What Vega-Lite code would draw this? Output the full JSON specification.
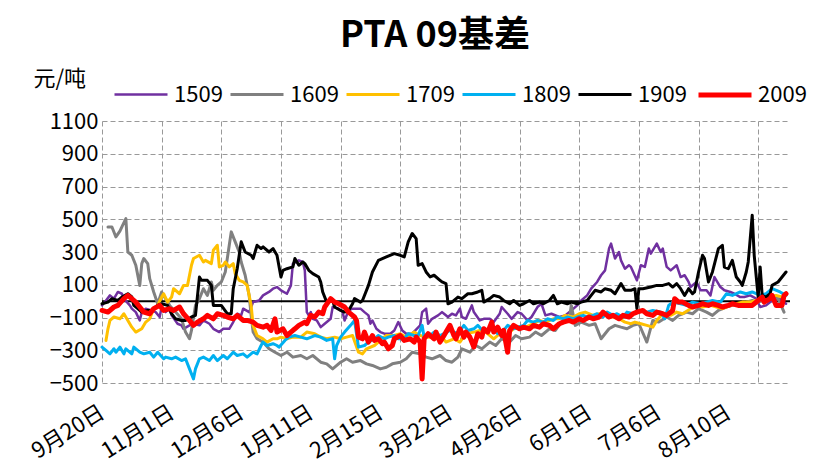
{
  "$schema": "https://vega.github.io/schema/vega-lite/v6.json",
  "width": 688,
  "height": 262,
  "autosize": {"type": "none"},
  "padding": {"left": 102, "top": 121, "right": 43, "bottom": 92},
  "background": "white",
  "config": {
    "view": {"stroke": null},
    "font": "Noto Sans CJK SC",
    "axis": {"labelOverlap": false, "labelFlush": false}
  },
  "title": {
    "text": "PTA 09基差",
    "fontSize": 36,
    "font": "Noto Sans CJK SC",
    "fontWeight": "bold",
    "anchor": "middle",
    "frame": "group",
    "dx": -11,
    "offset": 11,
    "color": "#000000"
  },
  "layer": [
    {
      "data": {"values": [{}]},
      "mark": {"type": "rule", "color": "#000000", "strokeWidth": 2},
      "encoding": {
        "y": {
          "datum": 0,
          "type": "quantitative",
          "axis": {
            "labelOverlap": false,
            "values": [-500, -300, -100, 100, 300, 500, 700, 900, 1100],
            "format": "d"
          }
        }
      }
    },
    {
      "data": {
        "values": [
{"s":"1509","i":0,"v":-26},{"s":"1509","i":2,"v":4},{"s":"1509","i":4,"v":35},{"s":"1509","i":6,"v":15},{"s":"1509","i":8,"v":56},{"s":"1509","i":10,"v":45},{"s":"1509","i":11,"v":15},{"s":"1509","i":14,"v":-26},{"s":"1509","i":15,"v":-46},{"s":"1509","i":17,"v":-67},{"s":"1509","i":19,"v":-118},{"s":"1509","i":20,"v":-67},{"s":"1509","i":22,"v":-46},{"s":"1509","i":25,"v":-57},{"s":"1509","i":27,"v":-67},{"s":"1509","i":29,"v":-97},{"s":"1509","i":30,"v":-36},{"s":"1509","i":32,"v":-67},{"s":"1509","i":34,"v":-46},{"s":"1509","i":35,"v":-87},{"s":"1509","i":38,"v":-138},{"s":"1509","i":40,"v":-148},{"s":"1509","i":41,"v":-169},{"s":"1509","i":44,"v":-148},{"s":"1509","i":46,"v":-138},{"s":"1509","i":49,"v":-148},{"s":"1509","i":51,"v":-118},{"s":"1509","i":54,"v":-138},{"s":"1509","i":56,"v":-169},{"s":"1509","i":59,"v":-189},{"s":"1509","i":61,"v":-169},{"s":"1509","i":64,"v":-169},{"s":"1509","i":66,"v":-128},{"s":"1509","i":68,"v":-77},{"s":"1509","i":70,"v":-87},{"s":"1509","i":71,"v":-46},{"s":"1509","i":74,"v":-67},{"s":"1509","i":76,"v":-6},{"s":"1509","i":79,"v":4},{"s":"1509","i":81,"v":35},{"s":"1509","i":84,"v":56},{"s":"1509","i":86,"v":76},{"s":"1509","i":88,"v":86},{"s":"1509","i":90,"v":66},{"s":"1509","i":93,"v":45},{"s":"1509","i":95,"v":96},{"s":"1509","i":96,"v":229},{"s":"1509","i":99,"v":249},{"s":"1509","i":101,"v":239},{"s":"1509","i":102,"v":188},{"s":"1509","i":103,"v":-67},{"s":"1509","i":104,"v":-87},{"s":"1509","i":105,"v":-67},{"s":"1509","i":106,"v":-108},{"s":"1509","i":108,"v":-118},{"s":"1509","i":110,"v":-159},{"s":"1509","i":112,"v":-138},{"s":"1509","i":115,"v":-108},{"s":"1509","i":116,"v":-36},{"s":"1509","i":119,"v":-46},{"s":"1509","i":121,"v":-67},{"s":"1509","i":122,"v":-118},{"s":"1509","i":124,"v":-57},{"s":"1509","i":126,"v":-46},{"s":"1509","i":130,"v":-46},{"s":"1509","i":132,"v":-67},{"s":"1509","i":134,"v":-87},{"s":"1509","i":135,"v":-138},{"s":"1509","i":136,"v":-118},{"s":"1509","i":138,"v":-169},{"s":"1509","i":140,"v":-189},{"s":"1509","i":142,"v":-199},{"s":"1509","i":145,"v":-199},{"s":"1509","i":147,"v":-179},{"s":"1509","i":149,"v":-128},{"s":"1509","i":151,"v":-179},{"s":"1509","i":153,"v":-199},{"s":"1509","i":156,"v":-199},{"s":"1509","i":160,"v":-148},{"s":"1509","i":161,"v":-67},{"s":"1509","i":163,"v":-46},{"s":"1509","i":164,"v":-138},{"s":"1509","i":166,"v":-108},{"s":"1509","i":169,"v":-87},{"s":"1509","i":171,"v":-67},{"s":"1509","i":172,"v":-77},{"s":"1509","i":174,"v":-97},{"s":"1509","i":176,"v":-77},{"s":"1509","i":178,"v":-87},{"s":"1509","i":180,"v":-46},{"s":"1509","i":181,"v":-97},{"s":"1509","i":183,"v":-108},{"s":"1509","i":186,"v":-26},{"s":"1509","i":187,"v":-67},{"s":"1509","i":190,"v":-118},{"s":"1509","i":192,"v":-108},{"s":"1509","i":195,"v":-108},{"s":"1509","i":197,"v":-128},{"s":"1509","i":200,"v":-77},{"s":"1509","i":201,"v":-36},{"s":"1509","i":204,"v":-77},{"s":"1509","i":206,"v":-108},{"s":"1509","i":209,"v":-67},{"s":"1509","i":211,"v":-77},{"s":"1509","i":214,"v":-118},{"s":"1509","i":216,"v":-97},{"s":"1509","i":219,"v":-36},{"s":"1509","i":221,"v":-16},{"s":"1509","i":223,"v":-87},{"s":"1509","i":226,"v":-77},{"s":"1509","i":230,"v":-97},{"s":"1509","i":233,"v":-87},{"s":"1509","i":236,"v":-57},{"s":"1509","i":239,"v":-26},{"s":"1509","i":241,"v":4},{"s":"1509","i":244,"v":35},{"s":"1509","i":246,"v":76},{"s":"1509","i":249,"v":117},{"s":"1509","i":251,"v":158},{"s":"1509","i":253,"v":188},{"s":"1509","i":255,"v":321},{"s":"1509","i":256,"v":351},{"s":"1509","i":258,"v":260},{"s":"1509","i":260,"v":300},{"s":"1509","i":261,"v":249},{"s":"1509","i":263,"v":198},{"s":"1509","i":265,"v":219},{"s":"1509","i":266,"v":209},{"s":"1509","i":269,"v":127},{"s":"1509","i":271,"v":219},{"s":"1509","i":273,"v":209},{"s":"1509","i":275,"v":321},{"s":"1509","i":276,"v":290},{"s":"1509","i":279,"v":351},{"s":"1509","i":281,"v":300},{"s":"1509","i":282,"v":321},{"s":"1509","i":284,"v":209},{"s":"1509","i":286,"v":188},{"s":"1509","i":289,"v":219},{"s":"1509","i":291,"v":147},{"s":"1509","i":293,"v":158},{"s":"1509","i":295,"v":117},{"s":"1509","i":296,"v":86},{"s":"1509","i":299,"v":117},{"s":"1509","i":301,"v":66},{"s":"1509","i":304,"v":66},{"s":"1509","i":306,"v":35},{"s":"1509","i":308,"v":147},{"s":"1509","i":311,"v":86},{"s":"1509","i":313,"v":66},{"s":"1509","i":316,"v":56},{"s":"1509","i":318,"v":45},{"s":"1509","i":321,"v":25},{"s":"1509","i":323,"v":25},{"s":"1509","i":326,"v":35},{"s":"1509","i":329,"v":15},{"s":"1509","i":331,"v":-36},{"s":"1509","i":334,"v":-26},{"s":"1509","i":337,"v":4},{"s":"1509","i":341,"v":15},{"s":"1509","i":344,"v":-16},
{"s":"1609","i":3,"v":453},{"s":"1609","i":5,"v":453},{"s":"1609","i":7,"v":392},{"s":"1609","i":9,"v":427},{"s":"1609","i":10,"v":453},{"s":"1609","i":12,"v":504},{"s":"1609","i":13,"v":300},{"s":"1609","i":15,"v":280},{"s":"1609","i":17,"v":219},{"s":"1609","i":19,"v":96},{"s":"1609","i":20,"v":229},{"s":"1609","i":21,"v":260},{"s":"1609","i":23,"v":229},{"s":"1609","i":24,"v":137},{"s":"1609","i":26,"v":56},{"s":"1609","i":28,"v":-16},{"s":"1609","i":30,"v":56},{"s":"1609","i":31,"v":35},{"s":"1609","i":34,"v":-26},{"s":"1609","i":37,"v":-67},{"s":"1609","i":40,"v":-108},{"s":"1609","i":42,"v":-189},{"s":"1609","i":44,"v":-230},{"s":"1609","i":45,"v":-179},{"s":"1609","i":47,"v":-26},{"s":"1609","i":49,"v":15},{"s":"1609","i":51,"v":76},{"s":"1609","i":53,"v":35},{"s":"1609","i":55,"v":117},{"s":"1609","i":56,"v":66},{"s":"1609","i":58,"v":96},{"s":"1609","i":60,"v":117},{"s":"1609","i":62,"v":178},{"s":"1609","i":64,"v":341},{"s":"1609","i":65,"v":423},{"s":"1609","i":67,"v":362},{"s":"1609","i":69,"v":300},{"s":"1609","i":70,"v":239},{"s":"1609","i":72,"v":158},{"s":"1609","i":74,"v":35},{"s":"1609","i":75,"v":-87},{"s":"1609","i":76,"v":-189},{"s":"1609","i":78,"v":-230},{"s":"1609","i":81,"v":-250},{"s":"1609","i":84,"v":-291},{"s":"1609","i":87,"v":-312},{"s":"1609","i":90,"v":-332},{"s":"1609","i":93,"v":-312},{"s":"1609","i":96,"v":-342},{"s":"1609","i":100,"v":-332},{"s":"1609","i":103,"v":-352},{"s":"1609","i":106,"v":-332},{"s":"1609","i":110,"v":-373},{"s":"1609","i":113,"v":-383},{"s":"1609","i":116,"v":-414},{"s":"1609","i":120,"v":-373},{"s":"1609","i":123,"v":-352},{"s":"1609","i":126,"v":-373},{"s":"1609","i":130,"v":-363},{"s":"1609","i":133,"v":-383},{"s":"1609","i":136,"v":-393},{"s":"1609","i":140,"v":-414},{"s":"1609","i":143,"v":-404},{"s":"1609","i":146,"v":-383},{"s":"1609","i":150,"v":-373},{"s":"1609","i":153,"v":-352},{"s":"1609","i":156,"v":-312},{"s":"1609","i":160,"v":-322},{"s":"1609","i":163,"v":-342},{"s":"1609","i":166,"v":-352},{"s":"1609","i":170,"v":-332},{"s":"1609","i":173,"v":-363},{"s":"1609","i":176,"v":-373},{"s":"1609","i":179,"v":-342},{"s":"1609","i":181,"v":-291},{"s":"1609","i":185,"v":-312},{"s":"1609","i":188,"v":-271},{"s":"1609","i":191,"v":-291},{"s":"1609","i":195,"v":-250},{"s":"1609","i":198,"v":-271},{"s":"1609","i":201,"v":-230},{"s":"1609","i":205,"v":-250},{"s":"1609","i":208,"v":-210},{"s":"1609","i":211,"v":-230},{"s":"1609","i":215,"v":-220},{"s":"1609","i":218,"v":-189},{"s":"1609","i":221,"v":-210},{"s":"1609","i":225,"v":-169},{"s":"1609","i":228,"v":-179},{"s":"1609","i":231,"v":-128},{"s":"1609","i":235,"v":-118},{"s":"1609","i":236,"v":-26},{"s":"1609","i":238,"v":-148},{"s":"1609","i":241,"v":-128},{"s":"1609","i":245,"v":-148},{"s":"1609","i":248,"v":-138},{"s":"1609","i":251,"v":-230},{"s":"1609","i":255,"v":-169},{"s":"1609","i":258,"v":-148},{"s":"1609","i":261,"v":-159},{"s":"1609","i":264,"v":-169},{"s":"1609","i":267,"v":-148},{"s":"1609","i":270,"v":-138},{"s":"1609","i":274,"v":-250},{"s":"1609","i":277,"v":-118},{"s":"1609","i":280,"v":-128},{"s":"1609","i":284,"v":-97},{"s":"1609","i":287,"v":-118},{"s":"1609","i":290,"v":-87},{"s":"1609","i":294,"v":-67},{"s":"1609","i":297,"v":-77},{"s":"1609","i":300,"v":-46},{"s":"1609","i":304,"v":-67},{"s":"1609","i":307,"v":-87},{"s":"1609","i":310,"v":-56},{"s":"1609","i":314,"v":-36},{"s":"1609","i":317,"v":-26},{"s":"1609","i":320,"v":-16},{"s":"1609","i":324,"v":-6},{"s":"1609","i":327,"v":4},{"s":"1609","i":330,"v":-6},{"s":"1609","i":334,"v":15},{"s":"1609","i":337,"v":35},{"s":"1609","i":340,"v":15},{"s":"1609","i":343,"v":-67},
{"s":"1709","i":2,"v":-240},{"s":"1709","i":3,"v":-169},{"s":"1709","i":4,"v":-118},{"s":"1709","i":6,"v":-97},{"s":"1709","i":9,"v":-108},{"s":"1709","i":11,"v":-77},{"s":"1709","i":13,"v":-118},{"s":"1709","i":15,"v":-159},{"s":"1709","i":17,"v":-189},{"s":"1709","i":20,"v":-169},{"s":"1709","i":22,"v":-128},{"s":"1709","i":24,"v":-108},{"s":"1709","i":26,"v":-46},{"s":"1709","i":28,"v":-26},{"s":"1709","i":30,"v":25},{"s":"1709","i":31,"v":45},{"s":"1709","i":33,"v":-6},{"s":"1709","i":35,"v":25},{"s":"1709","i":36,"v":76},{"s":"1709","i":39,"v":45},{"s":"1709","i":41,"v":96},{"s":"1709","i":43,"v":96},{"s":"1709","i":45,"v":219},{"s":"1709","i":46,"v":260},{"s":"1709","i":49,"v":280},{"s":"1709","i":51,"v":239},{"s":"1709","i":52,"v":249},{"s":"1709","i":55,"v":229},{"s":"1709","i":56,"v":311},{"s":"1709","i":58,"v":341},{"s":"1709","i":59,"v":209},{"s":"1709","i":61,"v":219},{"s":"1709","i":62,"v":239},{"s":"1709","i":64,"v":209},{"s":"1709","i":66,"v":229},{"s":"1709","i":67,"v":168},{"s":"1709","i":69,"v":127},{"s":"1709","i":71,"v":117},{"s":"1709","i":73,"v":96},{"s":"1709","i":75,"v":-26},{"s":"1709","i":76,"v":-148},{"s":"1709","i":78,"v":-210},{"s":"1709","i":81,"v":-230},{"s":"1709","i":83,"v":-250},{"s":"1709","i":86,"v":-230},{"s":"1709","i":88,"v":-230},{"s":"1709","i":90,"v":-220},{"s":"1709","i":93,"v":-230},{"s":"1709","i":96,"v":-220},{"s":"1709","i":100,"v":-220},{"s":"1709","i":103,"v":-189},{"s":"1709","i":107,"v":-199},{"s":"1709","i":110,"v":-220},{"s":"1709","i":113,"v":-230},{"s":"1709","i":117,"v":-220},{"s":"1709","i":120,"v":-230},{"s":"1709","i":123,"v":-220},{"s":"1709","i":126,"v":-210},{"s":"1709","i":129,"v":-312},{"s":"1709","i":131,"v":-322},{"s":"1709","i":133,"v":-291},{"s":"1709","i":137,"v":-271},{"s":"1709","i":140,"v":-240},{"s":"1709","i":143,"v":-210},{"s":"1709","i":147,"v":-210},{"s":"1709","i":150,"v":-199},{"s":"1709","i":153,"v":-220},{"s":"1709","i":157,"v":-189},{"s":"1709","i":160,"v":-210},{"s":"1709","i":163,"v":-220},{"s":"1709","i":167,"v":-220},{"s":"1709","i":170,"v":-210},{"s":"1709","i":173,"v":-250},{"s":"1709","i":177,"v":-230},{"s":"1709","i":180,"v":-250},{"s":"1709","i":183,"v":-199},{"s":"1709","i":187,"v":-189},{"s":"1709","i":190,"v":-179},{"s":"1709","i":193,"v":-189},{"s":"1709","i":197,"v":-230},{"s":"1709","i":200,"v":-199},{"s":"1709","i":203,"v":-210},{"s":"1709","i":207,"v":-169},{"s":"1709","i":210,"v":-159},{"s":"1709","i":213,"v":-159},{"s":"1709","i":217,"v":-138},{"s":"1709","i":220,"v":-118},{"s":"1709","i":223,"v":-128},{"s":"1709","i":227,"v":-108},{"s":"1709","i":230,"v":-108},{"s":"1709","i":233,"v":-87},{"s":"1709","i":237,"v":-97},{"s":"1709","i":240,"v":-77},{"s":"1709","i":243,"v":-67},{"s":"1709","i":247,"v":-87},{"s":"1709","i":250,"v":-77},{"s":"1709","i":253,"v":-87},{"s":"1709","i":257,"v":-97},{"s":"1709","i":260,"v":-108},{"s":"1709","i":263,"v":-128},{"s":"1709","i":266,"v":-138},{"s":"1709","i":268,"v":-128},{"s":"1709","i":271,"v":-138},{"s":"1709","i":274,"v":-148},{"s":"1709","i":277,"v":-159},{"s":"1709","i":279,"v":-118},{"s":"1709","i":282,"v":-77},{"s":"1709","i":286,"v":-87},{"s":"1709","i":289,"v":-67},{"s":"1709","i":292,"v":-77},{"s":"1709","i":296,"v":-46},{"s":"1709","i":299,"v":-26},{"s":"1709","i":302,"v":-36},{"s":"1709","i":306,"v":-26},{"s":"1709","i":309,"v":-36},{"s":"1709","i":312,"v":-46},{"s":"1709","i":316,"v":-26},{"s":"1709","i":319,"v":-16},{"s":"1709","i":322,"v":-6},{"s":"1709","i":326,"v":-6},{"s":"1709","i":329,"v":4},{"s":"1709","i":332,"v":15},{"s":"1709","i":336,"v":25},{"s":"1709","i":339,"v":35},{"s":"1709","i":342,"v":25},
{"s":"1809","i":0,"v":-281},{"s":"1809","i":2,"v":-301},{"s":"1809","i":4,"v":-322},{"s":"1809","i":6,"v":-291},{"s":"1809","i":7,"v":-312},{"s":"1809","i":9,"v":-281},{"s":"1809","i":11,"v":-322},{"s":"1809","i":12,"v":-291},{"s":"1809","i":15,"v":-322},{"s":"1809","i":16,"v":-281},{"s":"1809","i":19,"v":-312},{"s":"1809","i":21,"v":-322},{"s":"1809","i":24,"v":-312},{"s":"1809","i":26,"v":-342},{"s":"1809","i":28,"v":-312},{"s":"1809","i":31,"v":-352},{"s":"1809","i":32,"v":-342},{"s":"1809","i":35,"v":-352},{"s":"1809","i":37,"v":-342},{"s":"1809","i":40,"v":-363},{"s":"1809","i":42,"v":-352},{"s":"1809","i":44,"v":-414},{"s":"1809","i":46,"v":-475},{"s":"1809","i":47,"v":-414},{"s":"1809","i":49,"v":-352},{"s":"1809","i":51,"v":-342},{"s":"1809","i":54,"v":-363},{"s":"1809","i":56,"v":-332},{"s":"1809","i":58,"v":-363},{"s":"1809","i":61,"v":-332},{"s":"1809","i":63,"v":-352},{"s":"1809","i":66,"v":-312},{"s":"1809","i":68,"v":-332},{"s":"1809","i":71,"v":-322},{"s":"1809","i":73,"v":-342},{"s":"1809","i":76,"v":-312},{"s":"1809","i":78,"v":-322},{"s":"1809","i":80,"v":-271},{"s":"1809","i":81,"v":-250},{"s":"1809","i":83,"v":-271},{"s":"1809","i":86,"v":-260},{"s":"1809","i":88,"v":-271},{"s":"1809","i":89,"v":-281},{"s":"1809","i":92,"v":-240},{"s":"1809","i":94,"v":-220},{"s":"1809","i":97,"v":-210},{"s":"1809","i":100,"v":-220},{"s":"1809","i":103,"v":-230},{"s":"1809","i":107,"v":-210},{"s":"1809","i":110,"v":-220},{"s":"1809","i":113,"v":-240},{"s":"1809","i":116,"v":-230},{"s":"1809","i":117,"v":-352},{"s":"1809","i":118,"v":-271},{"s":"1809","i":120,"v":-220},{"s":"1809","i":122,"v":-189},{"s":"1809","i":125,"v":-148},{"s":"1809","i":127,"v":-118},{"s":"1809","i":129,"v":-281},{"s":"1809","i":132,"v":-271},{"s":"1809","i":134,"v":-250},{"s":"1809","i":137,"v":-230},{"s":"1809","i":139,"v":-210},{"s":"1809","i":142,"v":-230},{"s":"1809","i":144,"v":-220},{"s":"1809","i":147,"v":-210},{"s":"1809","i":149,"v":-230},{"s":"1809","i":152,"v":-230},{"s":"1809","i":154,"v":-199},{"s":"1809","i":157,"v":-210},{"s":"1809","i":159,"v":-210},{"s":"1809","i":161,"v":-148},{"s":"1809","i":162,"v":-220},{"s":"1809","i":165,"v":-210},{"s":"1809","i":167,"v":-189},{"s":"1809","i":170,"v":-210},{"s":"1809","i":172,"v":-199},{"s":"1809","i":175,"v":-179},{"s":"1809","i":177,"v":-189},{"s":"1809","i":179,"v":-199},{"s":"1809","i":182,"v":-148},{"s":"1809","i":184,"v":-179},{"s":"1809","i":187,"v":-169},{"s":"1809","i":189,"v":-148},{"s":"1809","i":192,"v":-189},{"s":"1809","i":194,"v":-179},{"s":"1809","i":197,"v":-169},{"s":"1809","i":199,"v":-199},{"s":"1809","i":202,"v":-179},{"s":"1809","i":204,"v":-148},{"s":"1809","i":207,"v":-169},{"s":"1809","i":209,"v":-159},{"s":"1809","i":212,"v":-148},{"s":"1809","i":214,"v":-118},{"s":"1809","i":217,"v":-128},{"s":"1809","i":219,"v":-118},{"s":"1809","i":222,"v":-128},{"s":"1809","i":224,"v":-108},{"s":"1809","i":227,"v":-118},{"s":"1809","i":229,"v":-97},{"s":"1809","i":232,"v":-108},{"s":"1809","i":234,"v":-97},{"s":"1809","i":237,"v":-108},{"s":"1809","i":239,"v":-97},{"s":"1809","i":242,"v":-87},{"s":"1809","i":244,"v":-97},{"s":"1809","i":247,"v":-87},{"s":"1809","i":249,"v":-77},{"s":"1809","i":252,"v":-97},{"s":"1809","i":254,"v":-67},{"s":"1809","i":257,"v":-87},{"s":"1809","i":259,"v":-77},{"s":"1809","i":262,"v":-97},{"s":"1809","i":264,"v":-67},{"s":"1809","i":267,"v":-77},{"s":"1809","i":271,"v":-57},{"s":"1809","i":274,"v":-67},{"s":"1809","i":277,"v":-57},{"s":"1809","i":281,"v":-67},{"s":"1809","i":283,"v":-108},{"s":"1809","i":285,"v":-26},{"s":"1809","i":287,"v":-6},{"s":"1809","i":291,"v":-16},{"s":"1809","i":294,"v":-26},{"s":"1809","i":297,"v":-6},{"s":"1809","i":301,"v":-16},{"s":"1809","i":304,"v":-6},{"s":"1809","i":307,"v":4},{"s":"1809","i":311,"v":-6},{"s":"1809","i":314,"v":45},{"s":"1809","i":317,"v":35},{"s":"1809","i":321,"v":56},{"s":"1809","i":324,"v":45},{"s":"1809","i":327,"v":56},{"s":"1809","i":331,"v":35},{"s":"1809","i":334,"v":45},{"s":"1809","i":337,"v":76},{"s":"1809","i":341,"v":56},{"s":"1809","i":344,"v":35},
{"s":"1909","i":0,"v":-16},{"s":"1909","i":3,"v":-6},{"s":"1909","i":5,"v":15},{"s":"1909","i":8,"v":4},{"s":"1909","i":10,"v":25},{"s":"1909","i":13,"v":45},{"s":"1909","i":15,"v":25},{"s":"1909","i":16,"v":-26},{"s":"1909","i":18,"v":-46},{"s":"1909","i":20,"v":-67},{"s":"1909","i":23,"v":-57},{"s":"1909","i":25,"v":-57},{"s":"1909","i":28,"v":-26},{"s":"1909","i":30,"v":-16},{"s":"1909","i":33,"v":-26},{"s":"1909","i":35,"v":-77},{"s":"1909","i":37,"v":-108},{"s":"1909","i":40,"v":-118},{"s":"1909","i":42,"v":-118},{"s":"1909","i":45,"v":-97},{"s":"1909","i":47,"v":-87},{"s":"1909","i":49,"v":147},{"s":"1909","i":50,"v":127},{"s":"1909","i":53,"v":127},{"s":"1909","i":55,"v":96},{"s":"1909","i":56,"v":-26},{"s":"1909","i":58,"v":-26},{"s":"1909","i":60,"v":-26},{"s":"1909","i":63,"v":-77},{"s":"1909","i":65,"v":-77},{"s":"1909","i":66,"v":76},{"s":"1909","i":68,"v":198},{"s":"1909","i":70,"v":362},{"s":"1909","i":72,"v":300},{"s":"1909","i":75,"v":280},{"s":"1909","i":76,"v":260},{"s":"1909","i":78,"v":341},{"s":"1909","i":80,"v":321},{"s":"1909","i":81,"v":331},{"s":"1909","i":84,"v":300},{"s":"1909","i":86,"v":321},{"s":"1909","i":88,"v":280},{"s":"1909","i":90,"v":147},{"s":"1909","i":91,"v":188},{"s":"1909","i":93,"v":198},{"s":"1909","i":96,"v":209},{"s":"1909","i":97,"v":260},{"s":"1909","i":99,"v":219},{"s":"1909","i":101,"v":239},{"s":"1909","i":102,"v":229},{"s":"1909","i":104,"v":188},{"s":"1909","i":106,"v":168},{"s":"1909","i":109,"v":147},{"s":"1909","i":110,"v":117},{"s":"1909","i":111,"v":56},{"s":"1909","i":113,"v":-6},{"s":"1909","i":116,"v":4},{"s":"1909","i":117,"v":-36},{"s":"1909","i":120,"v":-57},{"s":"1909","i":122,"v":-67},{"s":"1909","i":124,"v":-57},{"s":"1909","i":126,"v":-16},{"s":"1909","i":127,"v":15},{"s":"1909","i":130,"v":-6},{"s":"1909","i":131,"v":4},{"s":"1909","i":134,"v":96},{"s":"1909","i":136,"v":178},{"s":"1909","i":139,"v":249},{"s":"1909","i":143,"v":270},{"s":"1909","i":147,"v":290},{"s":"1909","i":150,"v":280},{"s":"1909","i":152,"v":270},{"s":"1909","i":154,"v":362},{"s":"1909","i":156,"v":413},{"s":"1909","i":158,"v":382},{"s":"1909","i":159,"v":219},{"s":"1909","i":161,"v":229},{"s":"1909","i":163,"v":178},{"s":"1909","i":165,"v":148},{"s":"1909","i":167,"v":158},{"s":"1909","i":170,"v":127},{"s":"1909","i":171,"v":117},{"s":"1909","i":173,"v":107},{"s":"1909","i":174,"v":-16},{"s":"1909","i":176,"v":-6},{"s":"1909","i":179,"v":25},{"s":"1909","i":181,"v":15},{"s":"1909","i":184,"v":45},{"s":"1909","i":186,"v":45},{"s":"1909","i":189,"v":56},{"s":"1909","i":191,"v":66},{"s":"1909","i":192,"v":-6},{"s":"1909","i":195,"v":15},{"s":"1909","i":197,"v":35},{"s":"1909","i":200,"v":25},{"s":"1909","i":202,"v":4},{"s":"1909","i":205,"v":-16},{"s":"1909","i":207,"v":4},{"s":"1909","i":210,"v":-26},{"s":"1909","i":212,"v":-16},{"s":"1909","i":215,"v":4},{"s":"1909","i":217,"v":-16},{"s":"1909","i":220,"v":-6},{"s":"1909","i":222,"v":-16},{"s":"1909","i":225,"v":4},{"s":"1909","i":227,"v":35},{"s":"1909","i":229,"v":-16},{"s":"1909","i":231,"v":-6},{"s":"1909","i":234,"v":-16},{"s":"1909","i":236,"v":-6},{"s":"1909","i":239,"v":-16},{"s":"1909","i":241,"v":-6},{"s":"1909","i":244,"v":4},{"s":"1909","i":246,"v":35},{"s":"1909","i":248,"v":66},{"s":"1909","i":251,"v":56},{"s":"1909","i":253,"v":76},{"s":"1909","i":256,"v":66},{"s":"1909","i":258,"v":45},{"s":"1909","i":261,"v":107},{"s":"1909","i":263,"v":66},{"s":"1909","i":266,"v":66},{"s":"1909","i":268,"v":76},{"s":"1909","i":269,"v":-46},{"s":"1909","i":270,"v":76},{"s":"1909","i":272,"v":76},{"s":"1909","i":276,"v":86},{"s":"1909","i":279,"v":96},{"s":"1909","i":282,"v":96},{"s":"1909","i":285,"v":107},{"s":"1909","i":287,"v":86},{"s":"1909","i":289,"v":107},{"s":"1909","i":291,"v":76},{"s":"1909","i":293,"v":35},{"s":"1909","i":295,"v":76},{"s":"1909","i":297,"v":45},{"s":"1909","i":298,"v":56},{"s":"1909","i":300,"v":178},{"s":"1909","i":302,"v":280},{"s":"1909","i":303,"v":260},{"s":"1909","i":305,"v":117},{"s":"1909","i":307,"v":178},{"s":"1909","i":310,"v":321},{"s":"1909","i":312,"v":341},{"s":"1909","i":313,"v":208},{"s":"1909","i":315,"v":198},{"s":"1909","i":317,"v":249},{"s":"1909","i":319,"v":147},{"s":"1909","i":321,"v":117},{"s":"1909","i":322,"v":96},{"s":"1909","i":324,"v":178},{"s":"1909","i":325,"v":239},{"s":"1909","i":327,"v":525},{"s":"1909","i":328,"v":280},{"s":"1909","i":330,"v":25},{"s":"1909","i":331,"v":208},{"s":"1909","i":332,"v":35},{"s":"1909","i":334,"v":25},{"s":"1909","i":336,"v":45},{"s":"1909","i":337,"v":96},{"s":"1909","i":340,"v":117},{"s":"1909","i":342,"v":147},{"s":"1909","i":344,"v":178},
{"s":"2009","i":0,"v":-57},{"s":"2009","i":3,"v":-67},{"s":"2009","i":6,"v":-36},{"s":"2009","i":8,"v":-26},{"s":"2009","i":11,"v":15},{"s":"2009","i":13,"v":35},{"s":"2009","i":16,"v":4},{"s":"2009","i":17,"v":-6},{"s":"2009","i":19,"v":-36},{"s":"2009","i":21,"v":-67},{"s":"2009","i":24,"v":-77},{"s":"2009","i":26,"v":-46},{"s":"2009","i":29,"v":-26},{"s":"2009","i":31,"v":-57},{"s":"2009","i":34,"v":-46},{"s":"2009","i":36,"v":-57},{"s":"2009","i":39,"v":-36},{"s":"2009","i":41,"v":-77},{"s":"2009","i":44,"v":-118},{"s":"2009","i":46,"v":-148},{"s":"2009","i":48,"v":-128},{"s":"2009","i":51,"v":-108},{"s":"2009","i":53,"v":-87},{"s":"2009","i":56,"v":-108},{"s":"2009","i":58,"v":-77},{"s":"2009","i":61,"v":-87},{"s":"2009","i":63,"v":-97},{"s":"2009","i":66,"v":-108},{"s":"2009","i":68,"v":-87},{"s":"2009","i":71,"v":-118},{"s":"2009","i":73,"v":-118},{"s":"2009","i":76,"v":-128},{"s":"2009","i":78,"v":-148},{"s":"2009","i":81,"v":-159},{"s":"2009","i":83,"v":-148},{"s":"2009","i":85,"v":-179},{"s":"2009","i":87,"v":-108},{"s":"2009","i":88,"v":-189},{"s":"2009","i":91,"v":-169},{"s":"2009","i":93,"v":-210},{"s":"2009","i":95,"v":-189},{"s":"2009","i":97,"v":-169},{"s":"2009","i":99,"v":-148},{"s":"2009","i":102,"v":-128},{"s":"2009","i":103,"v":-138},{"s":"2009","i":105,"v":-87},{"s":"2009","i":107,"v":-97},{"s":"2009","i":109,"v":-67},{"s":"2009","i":111,"v":-77},{"s":"2009","i":112,"v":-36},{"s":"2009","i":115,"v":15},{"s":"2009","i":117,"v":-6},{"s":"2009","i":119,"v":-16},{"s":"2009","i":122,"v":-36},{"s":"2009","i":124,"v":-67},{"s":"2009","i":127,"v":-97},{"s":"2009","i":128,"v":-118},{"s":"2009","i":129,"v":-220},{"s":"2009","i":131,"v":-230},{"s":"2009","i":132,"v":-189},{"s":"2009","i":134,"v":-250},{"s":"2009","i":136,"v":-210},{"s":"2009","i":137,"v":-240},{"s":"2009","i":139,"v":-230},{"s":"2009","i":141,"v":-260},{"s":"2009","i":142,"v":-250},{"s":"2009","i":144,"v":-291},{"s":"2009","i":146,"v":-271},{"s":"2009","i":147,"v":-230},{"s":"2009","i":150,"v":-210},{"s":"2009","i":152,"v":-240},{"s":"2009","i":155,"v":-230},{"s":"2009","i":157,"v":-250},{"s":"2009","i":158,"v":-220},{"s":"2009","i":160,"v":-250},{"s":"2009","i":161,"v":-475},{"s":"2009","i":162,"v":-230},{"s":"2009","i":164,"v":-199},{"s":"2009","i":167,"v":-230},{"s":"2009","i":168,"v":-189},{"s":"2009","i":170,"v":-250},{"s":"2009","i":172,"v":-210},{"s":"2009","i":173,"v":-189},{"s":"2009","i":175,"v":-148},{"s":"2009","i":177,"v":-210},{"s":"2009","i":178,"v":-230},{"s":"2009","i":180,"v":-169},{"s":"2009","i":182,"v":-220},{"s":"2009","i":183,"v":-189},{"s":"2009","i":185,"v":-220},{"s":"2009","i":187,"v":-280},{"s":"2009","i":189,"v":-199},{"s":"2009","i":191,"v":-220},{"s":"2009","i":192,"v":-169},{"s":"2009","i":194,"v":-189},{"s":"2009","i":196,"v":-128},{"s":"2009","i":197,"v":-189},{"s":"2009","i":199,"v":-159},{"s":"2009","i":201,"v":-210},{"s":"2009","i":202,"v":-179},{"s":"2009","i":204,"v":-312},{"s":"2009","i":205,"v":-179},{"s":"2009","i":207,"v":-148},{"s":"2009","i":210,"v":-169},{"s":"2009","i":212,"v":-159},{"s":"2009","i":215,"v":-169},{"s":"2009","i":217,"v":-148},{"s":"2009","i":220,"v":-159},{"s":"2009","i":222,"v":-138},{"s":"2009","i":225,"v":-148},{"s":"2009","i":227,"v":-169},{"s":"2009","i":230,"v":-138},{"s":"2009","i":232,"v":-128},{"s":"2009","i":235,"v":-118},{"s":"2009","i":237,"v":-128},{"s":"2009","i":240,"v":-108},{"s":"2009","i":242,"v":-118},{"s":"2009","i":245,"v":-97},{"s":"2009","i":247,"v":-108},{"s":"2009","i":250,"v":-97},{"s":"2009","i":252,"v":-67},{"s":"2009","i":255,"v":-97},{"s":"2009","i":257,"v":-87},{"s":"2009","i":260,"v":-108},{"s":"2009","i":262,"v":-87},{"s":"2009","i":265,"v":-97},{"s":"2009","i":267,"v":-77},{"s":"2009","i":269,"v":-67},{"s":"2009","i":272,"v":-57},{"s":"2009","i":274,"v":-77},{"s":"2009","i":277,"v":-87},{"s":"2009","i":279,"v":-67},{"s":"2009","i":282,"v":-77},{"s":"2009","i":284,"v":-87},{"s":"2009","i":287,"v":-57},{"s":"2009","i":288,"v":15},{"s":"2009","i":290,"v":-6},{"s":"2009","i":292,"v":-6},{"s":"2009","i":295,"v":-26},{"s":"2009","i":297,"v":-36},{"s":"2009","i":300,"v":-26},{"s":"2009","i":302,"v":-16},{"s":"2009","i":305,"v":-26},{"s":"2009","i":307,"v":-16},{"s":"2009","i":310,"v":-26},{"s":"2009","i":312,"v":-36},{"s":"2009","i":315,"v":-26},{"s":"2009","i":317,"v":-16},{"s":"2009","i":320,"v":-26},{"s":"2009","i":322,"v":-26},{"s":"2009","i":325,"v":-26},{"s":"2009","i":327,"v":-26},{"s":"2009","i":330,"v":4},{"s":"2009","i":332,"v":25},{"s":"2009","i":333,"v":-6},{"s":"2009","i":336,"v":15},{"s":"2009","i":337,"v":35},{"s":"2009","i":339,"v":-26},{"s":"2009","i":342,"v":-26},{"s":"2009","i":343,"v":35},{"s":"2009","i":344,"v":45}
        ]
      },
      "mark": {"type": "line", "strokeJoin": "round", "strokeCap": "round"},
      "encoding": {
        "x": {
          "field": "i",
          "type": "quantitative",
          "scale": {"domain": [0, 346], "nice": false, "zero": false},
          "axis": {
            "title": null,
            "orient": "bottom",
            "domain": false,
            "ticks": false,
            "values": [0, 30, 35, 60, 70, 90, 105, 120, 140, 150, 175, 180, 210, 240, 245, 270, 280, 300, 315, 330],
            "labelExpr": "datum.value % 35 === 0 ? ['9月20日','11月1日','12月6日','1月11日','2月15日','3月22日','4月26日','6月1日','7月6日','8月10日'][datum.value / 35] : ''",
            "labelAngle": -32,
            "labelAlign": "right",
            "labelBaseline": "middle",
            "labelPadding": 27,
            "labelFontSize": 22,
            "labelFont": "Noto Sans CJK SC",
            "labelColor": "#000000",
            "labelOverlap": false,
            "labelFlush": false,
            "labelBound": false,
            "grid": true,
            "gridColor": "#999999",
            "gridDash": [5, 3],
            "gridWidth": 1,
            "gridOpacity": {"condition": {"test": "datum.value % 30 === 0", "value": 1}, "value": 0}
          }
        },
        "y": {
          "field": "v",
          "type": "quantitative",
          "scale": {"domain": [-500, 1100], "nice": false, "zero": false},
          "axis": {
            "title": "元/吨",
            "titleAngle": 0,
            "titleX": -69,
            "titleY": -43,
            "titleAlign": "left",
            "titleBaseline": "middle",
            "titleFontSize": 22,
            "titleFontWeight": "normal",
            "titleFont": "Noto Sans CJK SC",
            "titleColor": "#000000",
            "domain": false,
            "ticks": false,
            "values": [-500, -300, -100, 100, 300, 500, 700, 900, 1100],
            "format": "d",
            "labelOverlap": false,
            "labelFontSize": 22,
            "labelFont": "Noto Sans CJK SC",
            "labelColor": "#000000",
            "labelPadding": 4,
            "grid": true,
            "gridColor": "#999999",
            "gridDash": [5, 3],
            "gridWidth": 1
          }
        },
        "color": {
          "field": "s",
          "type": "nominal",
          "scale": {
            "domain": ["1509", "1609", "1709", "1809", "1909", "2009"],
            "range": ["#7030A0", "#808080", "#FFC000", "#00B0F0", "#000000", "#FF0000"]
          },
          "legend": {
            "title": null,
            "orient": "none",
            "legendX": 10,
            "legendY": -55,
            "direction": "horizontal",
            "columns": 6,
            "symbolType": "stroke",
            "symbolSize": 2809,
            "labelFontSize": 22,
            "labelFont": "Noto Sans CJK SC",
            "labelColor": "#000000",
            "labelOffset": 4,
            "columnPadding": 1,
            "padding": 0
          }
        },
        "strokeWidth": {
          "field": "s",
          "type": "nominal",
          "scale": {
            "type": "ordinal",
            "domain": ["1509", "1609", "1709", "1809", "1909", "2009"],
            "range": [2.5, 3, 3, 3, 3, 5]
          }
        }
      }
    }
  ]
}
